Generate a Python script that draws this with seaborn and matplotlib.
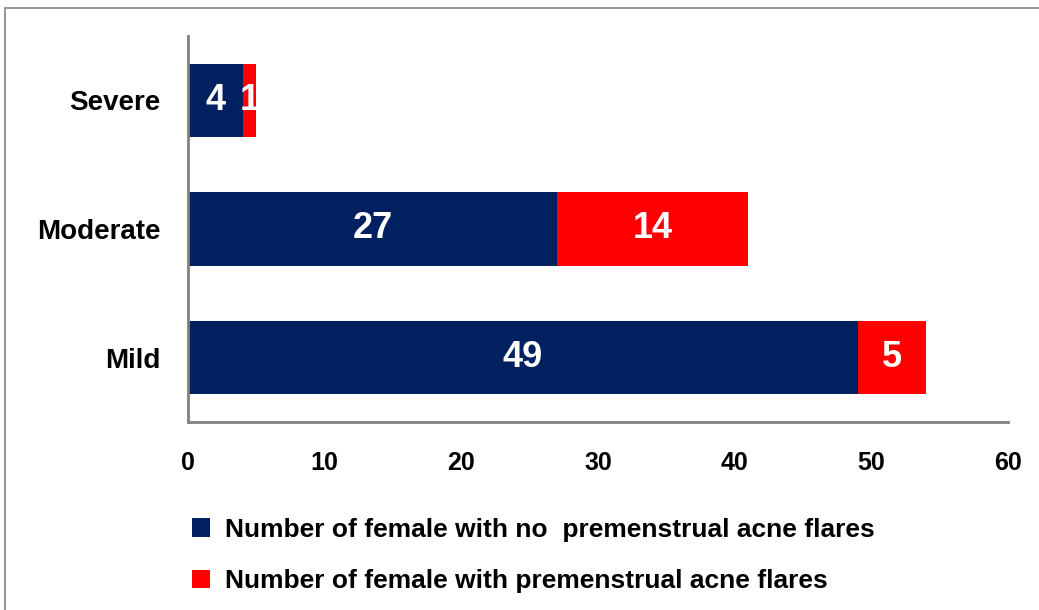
import matplotlib
matplotlib.use("Agg")
import matplotlib.pyplot as plt
import seaborn as sns
import pandas as pd
from matplotlib.patches import Patch
from matplotlib.lines import Line2D

categories = ["Severe", "Moderate", "Mild"]
no_flares = [4, 27, 49]
with_flares = [1, 14, 5]
series_names = ["Number of female with no  premenstrual acne flares",
                "Number of female with premenstrual acne flares"]
x_ticks = [0, 10, 20, 30, 40, 50, 60]

NAVY = "#002060"
RED = "#FF0000"
GREY = "#808080"

sns.set_theme(style="white")
plt.rcParams['font.family'] = ['Liberation Sans', 'DejaVu Sans']
plt.rcParams['font.weight'] = 'bold'
plt.rcParams['text.color'] = 'black'

df = pd.DataFrame({"category": categories, "no": no_flares, "yes": with_flares})
df["total"] = df["no"] + df["yes"]

fig = plt.figure(figsize=(10.39, 6.10), dpi=100)
ax = fig.add_axes([188/1039, 1-422/610, (1008-188)/1039, (422-36)/610])

sns.barplot(data=df, y="category", x="total", color=RED, orient="h",
            width=0.57, saturation=1, ax=ax, order=categories, linewidth=0)
sns.barplot(data=df, y="category", x="no", color=NAVY, orient="h",
            width=0.57, saturation=1, ax=ax, order=categories, linewidth=0)

for i, (n, y) in enumerate(zip(no_flares, with_flares)):
    ax.text(n / 2, i, str(n), color="white", ha="center", va="center",
            fontsize=26, fontweight="bold")
    ax.text(n + y / 2, i, str(y), color="white", ha="center", va="center",
            fontsize=26, fontweight="bold")

ax.set_xlim(0, 60)
ax.set_ylim(2.5, -0.5)
ax.set_xticks(x_ticks)
ax.set_xticklabels([str(t) for t in x_ticks], fontsize=18, fontweight="bold")
ax.set_yticks(range(len(categories)))
ax.set_yticklabels(categories, fontsize=20, fontweight="bold")
ax.tick_params(axis="x", length=0, pad=21, colors="black")
ax.tick_params(axis="y", length=0, pad=20, colors="black")
ax.set_xlabel("")
ax.set_ylabel("")
for s in ["top", "right"]:
    ax.spines[s].set_visible(False)
for s in ["left", "bottom"]:
    ax.spines[s].set_color(GREY)
    ax.spines[s].set_linewidth(2)

handles = [Patch(facecolor=NAVY, edgecolor="none"), Patch(facecolor=RED, edgecolor="none")]
leg = fig.legend(handles, series_names, loc="upper left",
                 bbox_to_anchor=(168/1039, 1-494/610), frameon=False,
                 prop={"size": 19, "weight": "bold"}, handlelength=0.68, handleheight=0.68,
                 handletextpad=0.57, labelspacing=1.05)
for t in leg.get_texts():
    t.set_color("black")

# outer chart border (partial, as in the reference crop)
fig.add_artist(Line2D([5/1039, 5/1039], [0, 1-8/610], color="#999999", lw=1.5,
                      transform=fig.transFigure))
fig.add_artist(Line2D([5/1039, 1], [1-8/610, 1-8/610], color="#999999", lw=1.5,
                      transform=fig.transFigure))

fig.savefig("out.png", dpi=100)
